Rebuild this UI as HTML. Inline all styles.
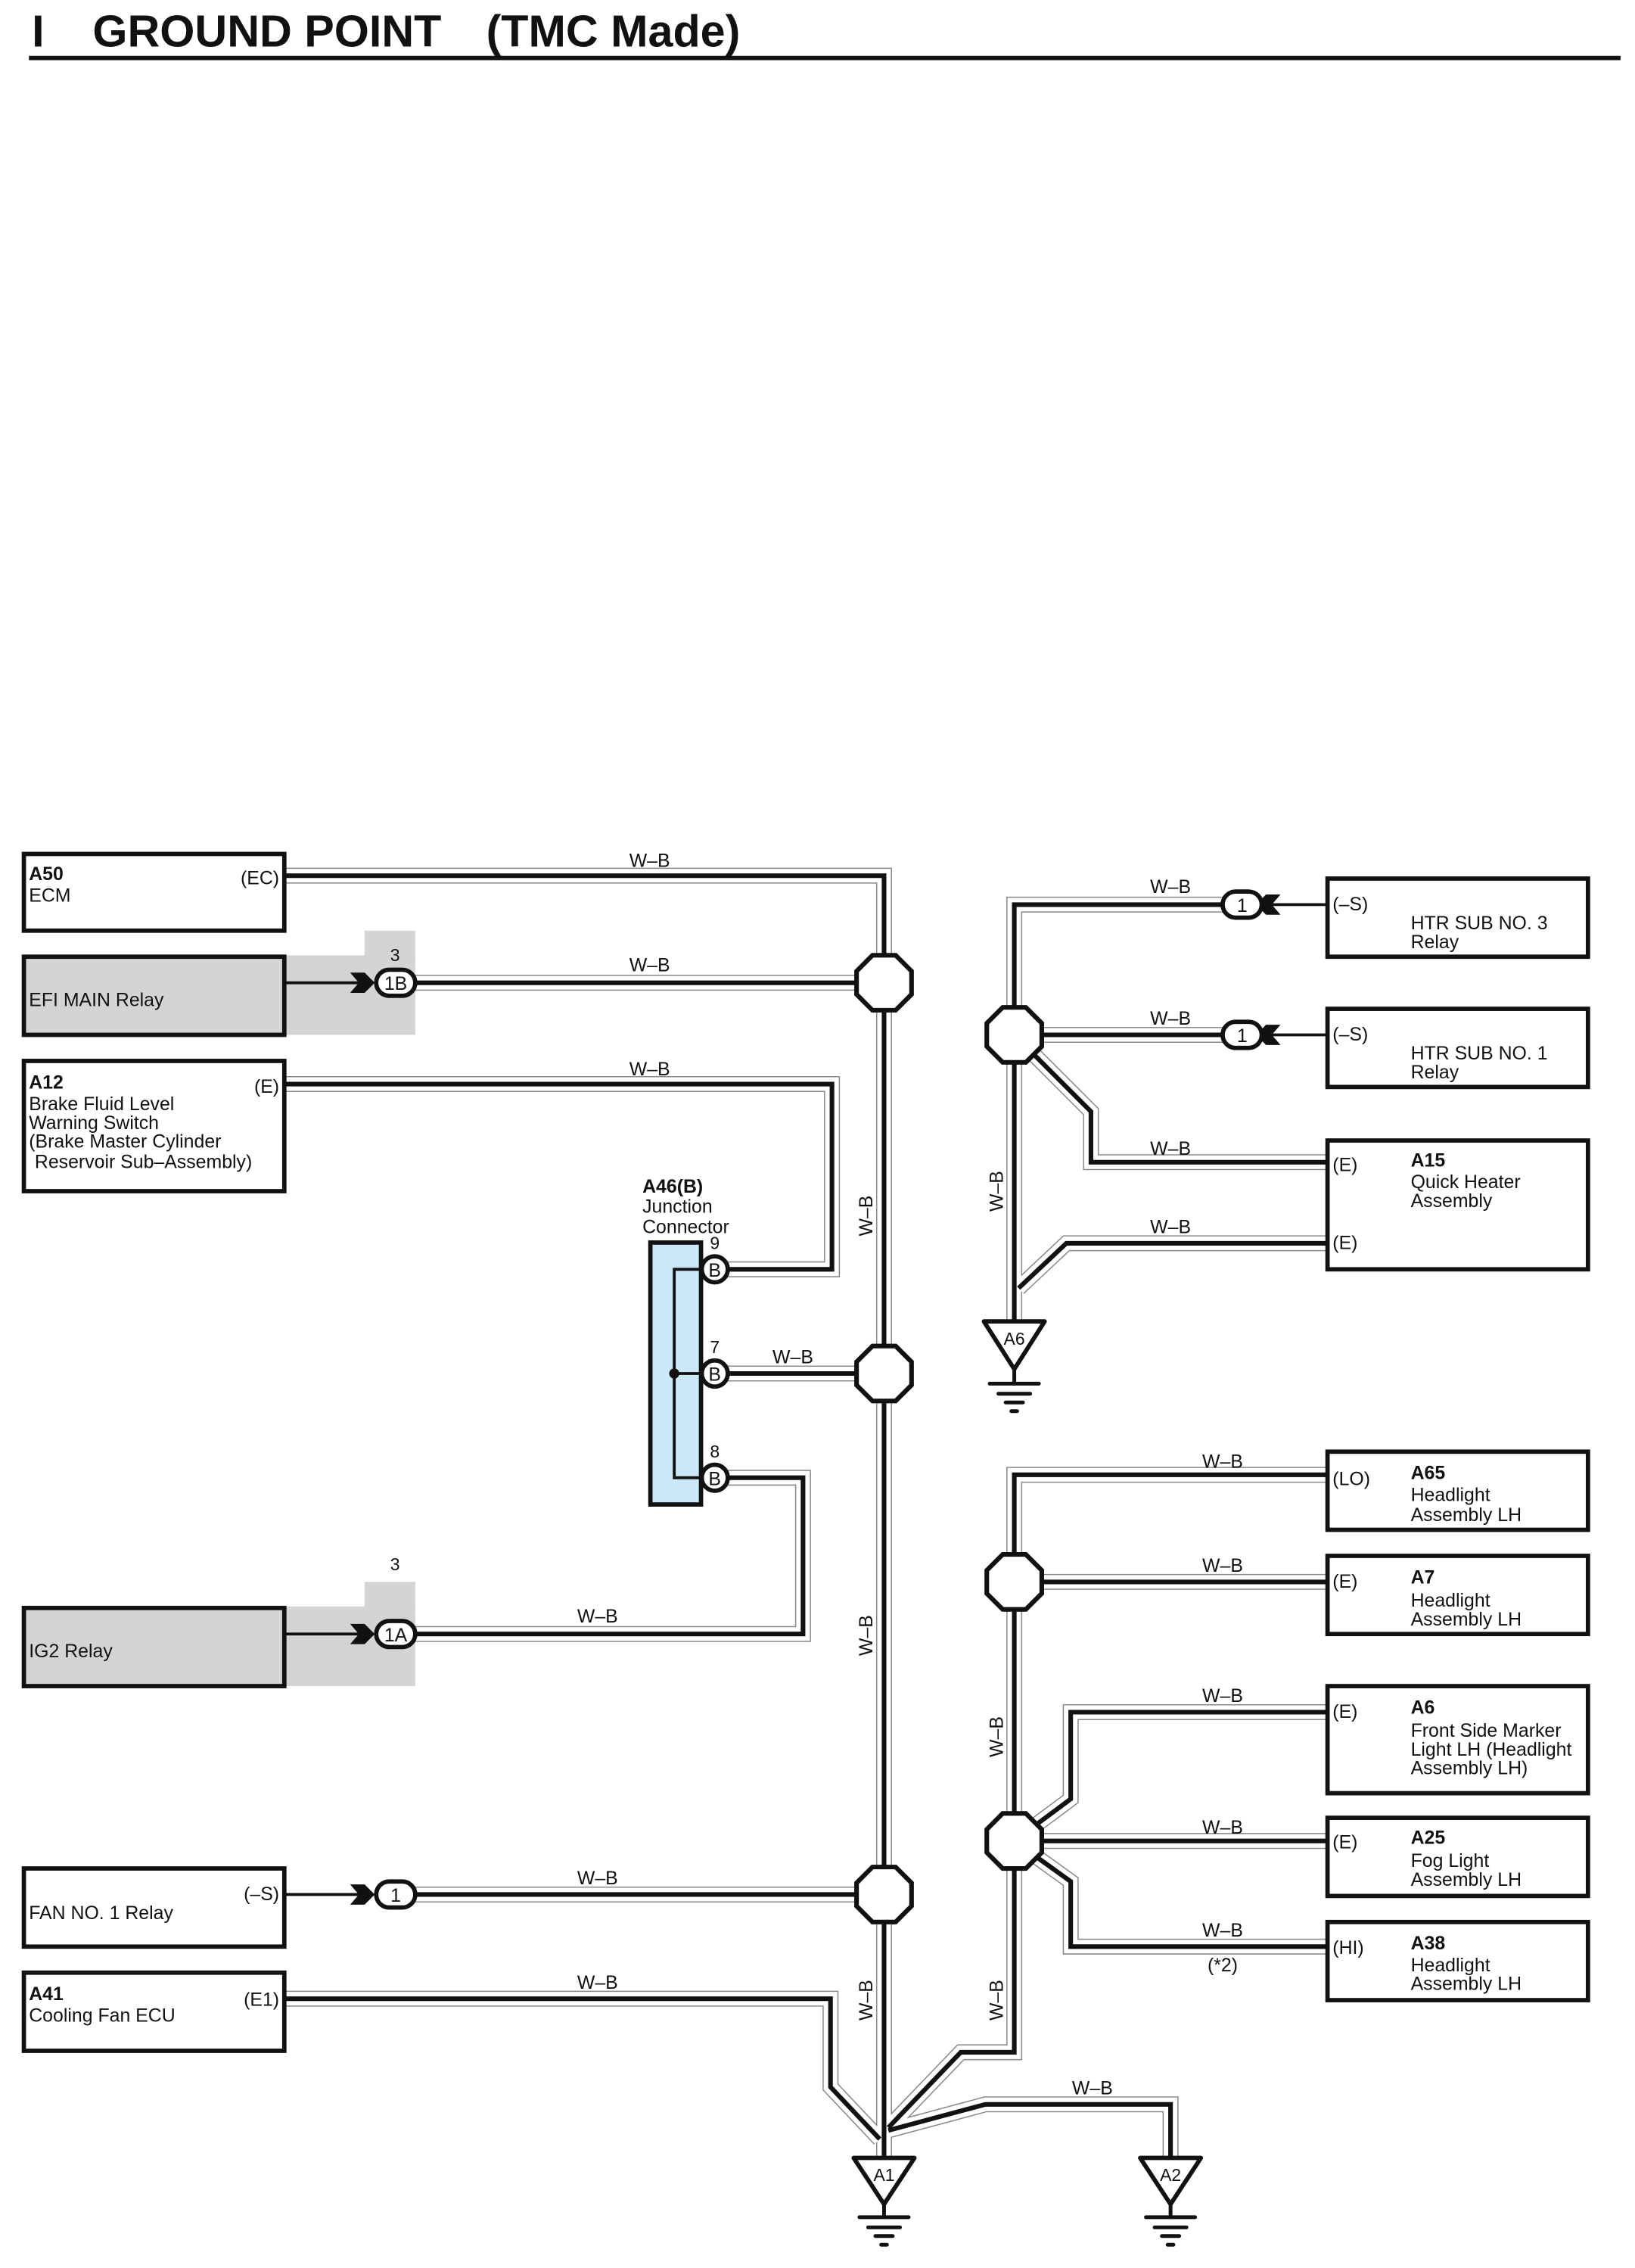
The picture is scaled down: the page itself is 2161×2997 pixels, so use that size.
<!DOCTYPE html>
<html><head><meta charset="utf-8"><style>
html,body{margin:0;padding:0;background:#fff}
svg{display:block}
text{font-family:"Liberation Sans",Arial,sans-serif;fill:#111}
.g{stroke:#8a8a8a;stroke-width:11;fill:none;stroke-linejoin:miter}
.wt{stroke:#fff;stroke-width:9.4;fill:none;stroke-linejoin:miter}
.b{stroke:#111;stroke-width:3.2;fill:none;stroke-linejoin:miter}
.box{fill:#fff;stroke:#111;stroke-width:3}
.gbox{fill:#d3d4d6;stroke:#111;stroke-width:3}
.oct{fill:#fff;stroke:#111;stroke-width:3.2}
.t{font-size:13px}
.tb{font-size:13px;font-weight:bold}
.lbl{font-size:13px;text-anchor:middle}
</style></head><body>
<svg width="2161" height="2997" viewBox="0 0 1130 1567" xmlns="http://www.w3.org/2000/svg">
<text x="22" y="32" style="font-size:31px;font-weight:bold">I</text>
<text x="64" y="32" style="font-size:31px;font-weight:bold">GROUND POINT</text>
<text x="336" y="32" style="font-size:31px;font-weight:bold">(TMC Made)</text>
<rect x="20" y="38.5" width="1100" height="3" fill="#111"/>

<rect x="197" y="660" width="90" height="55" fill="#d3d4d6"/>
<rect x="252" y="643" width="35" height="20" fill="#d3d4d6"/>
<rect x="197" y="1110" width="90" height="55" fill="#d3d4d6"/>
<rect x="252" y="1093" width="35" height="20" fill="#d3d4d6"/>

<defs>
<path id="p1" d="M197,605 H611 V1490"/>
<path id="p2" d="M287,679 H611"/>
<path id="p3" d="M197,749 H575 V877 H503"/>
<path id="p4" d="M503,949 H611"/>
<path id="p5" d="M503,1021 H555 V1129 H287"/>
<path id="p6" d="M287,1309 H611"/>
<path id="p7" d="M197,1381 H574 V1442 L608,1478"/>
<path id="p8" d="M917,1019 H701 V1418 H664 L614,1470"/>
<path id="p9" d="M614,1472 L681,1454 H809 V1490"/>
<path id="p10" d="M845,625 H701 V912"/>
<path id="p11" d="M845,715 H701"/>
<path id="p12" d="M701,715 L754,768 V803 H917"/>
<path id="p13" d="M917,859 H737 L704,890"/>
<path id="p14" d="M917,1093 H701"/>
<path id="p15" d="M917,1183 H740 V1243 L701,1272"/>
<path id="p16" d="M917,1272 H701"/>
<path id="p17" d="M917,1345 H740 V1300 L701,1272"/>
</defs>
<g class="g"><use href="#p1"/><use href="#p2"/><use href="#p3"/><use href="#p4"/><use href="#p5"/><use href="#p6"/><use href="#p7"/><use href="#p8"/><use href="#p9"/><use href="#p10"/><use href="#p11"/><use href="#p12"/><use href="#p13"/><use href="#p14"/><use href="#p15"/><use href="#p16"/><use href="#p17"/></g>
<g class="wt"><use href="#p1"/><use href="#p2"/><use href="#p3"/><use href="#p4"/><use href="#p5"/><use href="#p6"/><use href="#p7"/><use href="#p8"/><use href="#p9"/><use href="#p10"/><use href="#p11"/><use href="#p12"/><use href="#p13"/><use href="#p14"/><use href="#p15"/><use href="#p16"/><use href="#p17"/></g>
<g class="b"><use href="#p1"/><use href="#p2"/><use href="#p3"/><use href="#p4"/><use href="#p5"/><use href="#p6"/><use href="#p7"/><use href="#p8"/><use href="#p9"/><use href="#p10"/><use href="#p11"/><use href="#p12"/><use href="#p13"/><use href="#p14"/><use href="#p15"/><use href="#p16"/><use href="#p17"/></g>

<g class="oct">
<polygon points="603,660 619,660 630,671 630,687 619,698 603,698 592,687 592,671"/>
<polygon points="603,930 619,930 630,941 630,957 619,968 603,968 592,957 592,941"/>
<polygon points="603,1290 619,1290 630,1301 630,1317 619,1328 603,1328 592,1317 592,1301"/>
<polygon points="693,696 709,696 720,707 720,723 709,734 693,734 682,723 682,707"/>
<polygon points="693,1074 709,1074 720,1085 720,1101 709,1112 693,1112 682,1101 682,1085"/>
<polygon points="693,1253 709,1253 720,1264 720,1280 709,1291 693,1291 682,1280 682,1264"/>
</g>

<g class="lbl">
<text x="449" y="599">W–B</text>
<text x="449" y="671">W–B</text>
<text x="449" y="743">W–B</text>
<text x="548" y="942">W–B</text>
<text x="413" y="1121">W–B</text>
<text x="413" y="1302">W–B</text>
<text x="413" y="1374">W–B</text>
<text x="755" y="1447">W–B</text>
<text x="809" y="617">W–B</text>
<text x="809" y="708">W–B</text>
<text x="809" y="798">W–B</text>
<text x="809" y="852">W–B</text>
<text x="845" y="1014">W–B</text>
<text x="845" y="1086">W–B</text>
<text x="845" y="1176">W–B</text>
<text x="845" y="1267">W–B</text>
<text x="845" y="1338">W–B</text>
<text x="845" y="1362">(*2)</text>
<text transform="translate(603,840) rotate(-90)">W–B</text>
<text transform="translate(603,1130) rotate(-90)">W–B</text>
<text transform="translate(603,1382) rotate(-90)">W–B</text>
<text transform="translate(693,823) rotate(-90)">W–B</text>
<text transform="translate(693,1200) rotate(-90)">W–B</text>
<text transform="translate(693,1382) rotate(-90)">W–B</text>
</g>

<rect class="box" x="16.5" y="590" width="180" height="53"/>
<text class="tb" x="20" y="608">A50</text><text class="t" x="20" y="623">ECM</text>
<text class="t" x="193" y="611" text-anchor="end">(EC)</text>

<rect class="gbox" x="16.5" y="661" width="180" height="54"/>
<text class="t" x="20" y="695">EFI MAIN Relay</text>

<rect class="box" x="16.5" y="733" width="180" height="90"/>
<text class="tb" x="20" y="752">A12</text>
<text class="t" x="20" y="767">Brake Fluid Level</text>
<text class="t" x="20" y="780">Warning Switch</text>
<text class="t" x="20" y="793">(Brake Master Cylinder</text>
<text class="t" x="24" y="807">Reservoir Sub–Assembly)</text>
<text class="t" x="193" y="755" text-anchor="end">(E)</text>

<rect class="gbox" x="16.5" y="1111" width="180" height="54"/>
<text class="t" x="20" y="1145">IG2 Relay</text>

<rect class="box" x="16.5" y="1291" width="180" height="54"/>
<text class="t" x="20" y="1326">FAN NO. 1 Relay</text>
<text class="t" x="193" y="1313" text-anchor="end">(–S)</text>

<rect class="box" x="16.5" y="1363" width="180" height="54"/>
<text class="tb" x="20" y="1382">A41</text><text class="t" x="20" y="1397">Cooling Fan ECU</text>
<text class="t" x="193" y="1386" text-anchor="end">(E1)</text>

<g stroke="#111" stroke-width="2">
<line x1="197" y1="679" x2="250" y2="679"/>
<line x1="197" y1="1129" x2="250" y2="1129"/>
<line x1="197" y1="1309" x2="250" y2="1309"/>
<line x1="917" y1="625" x2="876" y2="625"/>
<line x1="917" y1="715" x2="876" y2="715"/>
</g>
<g fill="#111">
<polygon points="242,672 252,672 259,679 252,686 242,686 248,679"/>
<polygon points="242,1122 252,1122 259,1129 252,1136 242,1136 248,1129"/>
<polygon points="242,1302 252,1302 259,1309 252,1316 242,1316 248,1309"/>
<polygon points="885,618 875,618 868,625 875,632 885,632 879,625"/>
<polygon points="885,708 875,708 868,715 875,722 885,722 879,715"/>
</g>
<g fill="#fff" stroke="#111" stroke-width="3">
<rect x="260" y="670" width="27" height="18" rx="9"/>
<rect x="260" y="1120" width="27" height="18" rx="9"/>
<rect x="260" y="1300" width="27" height="18" rx="9"/>
<rect x="845" y="616" width="27" height="18" rx="9"/>
<rect x="845" y="706" width="27" height="18" rx="9"/>
</g>
<g class="lbl" style="font-size:13px">
<text x="273.5" y="684">1B</text>
<text x="273.5" y="1134">1A</text>
<text x="273.5" y="1314">1</text>
<text x="858.5" y="630">1</text>
<text x="858.5" y="720">1</text>
<text x="273" y="664" style="font-size:12px">3</text>
<text x="273" y="1085" style="font-size:12px">3</text>
</g>

<text class="tb" x="444" y="824">A46(B)</text>
<text class="t" x="444" y="838">Junction</text>
<text class="t" x="444" y="852">Connector</text>
<rect x="449.5" y="858.5" width="35" height="181" fill="#cbe8f8" stroke="#111" stroke-width="3"/>
<path d="M494,877 H466 V1021 H494 M466,949 H494" stroke="#111" stroke-width="2" fill="none"/>
<circle cx="466" cy="949" r="3.5" fill="#111"/>
<g fill="#fff" stroke="#111" stroke-width="3">
<circle cx="494" cy="877" r="9"/><circle cx="494" cy="949" r="9"/><circle cx="494" cy="1021" r="9"/>
</g>
<g class="lbl" style="font-size:13px">
<text x="494" y="882">B</text><text x="494" y="954">B</text><text x="494" y="1026">B</text>
<text x="494" y="863" style="font-size:12px">9</text><text x="494" y="935" style="font-size:12px">7</text><text x="494" y="1007" style="font-size:12px">8</text>
</g>

<rect class="box" x="917.5" y="607" width="180" height="54"/>
<text class="t" x="921" y="629">(–S)</text>
<text class="t" x="975" y="642">HTR SUB NO. 3</text><text class="t" x="975" y="655">Relay</text>

<rect class="box" x="917.5" y="697" width="180" height="54"/>
<text class="t" x="921" y="719">(–S)</text>
<text class="t" x="975" y="732">HTR SUB NO. 1</text><text class="t" x="975" y="745">Relay</text>

<rect class="box" x="917.5" y="788" width="180" height="89"/>
<text class="t" x="921" y="809">(E)</text><text class="t" x="921" y="863">(E)</text>
<text class="tb" x="975" y="806">A15</text>
<text class="t" x="975" y="821">Quick Heater</text><text class="t" x="975" y="834">Assembly</text>

<rect class="box" x="917.5" y="1003" width="180" height="54"/>
<text class="t" x="921" y="1026">(LO)</text>
<text class="tb" x="975" y="1022">A65</text>
<text class="t" x="975" y="1037">Headlight</text><text class="t" x="975" y="1051">Assembly LH</text>

<rect class="box" x="917.5" y="1075" width="180" height="54"/>
<text class="t" x="921" y="1097">(E)</text>
<text class="tb" x="975" y="1094">A7</text>
<text class="t" x="975" y="1110">Headlight</text><text class="t" x="975" y="1123">Assembly LH</text>

<rect class="box" x="917.5" y="1165" width="180" height="74"/>
<text class="t" x="921" y="1187">(E)</text>
<text class="tb" x="975" y="1184">A6</text>
<text class="t" x="975" y="1200">Front Side Marker</text>
<text class="t" x="975" y="1213">Light LH (Headlight</text>
<text class="t" x="975" y="1226">Assembly LH)</text>

<rect class="box" x="917.5" y="1256" width="180" height="54"/>
<text class="t" x="921" y="1277">(E)</text>
<text class="tb" x="975" y="1274">A25</text>
<text class="t" x="975" y="1290">Fog Light</text><text class="t" x="975" y="1303">Assembly LH</text>

<rect class="box" x="917.5" y="1328" width="180" height="54"/>
<text class="t" x="921" y="1350">(HI)</text>
<text class="tb" x="975" y="1347">A38</text>
<text class="t" x="975" y="1362">Headlight</text><text class="t" x="975" y="1375">Assembly LH</text>

<g stroke="#111" stroke-width="3" fill="#fff" stroke-linejoin="round">
<polygon points="680,913 722,913 701,946"/>
<polygon points="590,1491 632,1491 611,1523"/>
<polygon points="788,1491 830,1491 809,1523"/>
</g>
<g stroke="#111" stroke-width="2.6" stroke-linecap="round">
<line x1="701" y1="946" x2="701" y2="956"/><line x1="684" y1="956" x2="718" y2="956"/><line x1="690" y1="963" x2="712" y2="963"/><line x1="695" y1="969" x2="707" y2="969"/><line x1="699" y1="975" x2="703" y2="975"/>
<line x1="611" y1="1523" x2="611" y2="1532"/><line x1="594" y1="1532" x2="628" y2="1532"/><line x1="600" y1="1539" x2="622" y2="1539"/><line x1="605" y1="1545" x2="617" y2="1545"/><line x1="609" y1="1551" x2="613" y2="1551"/>
<line x1="809" y1="1523" x2="809" y2="1532"/><line x1="792" y1="1532" x2="826" y2="1532"/><line x1="798" y1="1539" x2="820" y2="1539"/><line x1="803" y1="1545" x2="815" y2="1545"/><line x1="807" y1="1551" x2="811" y2="1551"/>
</g>
<g class="lbl" style="font-size:12px">
<text x="701" y="929">A6</text><text x="611" y="1507">A1</text><text x="809" y="1507">A2</text>
</g>
</svg>
</body></html>
